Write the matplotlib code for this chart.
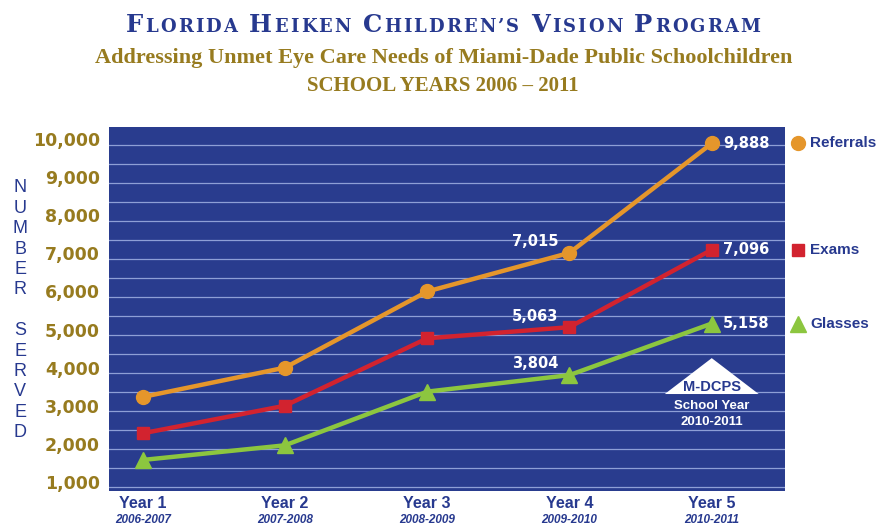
import matplotlib.pyplot as plt
import matplotlib.transforms as mtransforms
from matplotlib.patches import Polygon
from matplotlib.ticker import FuncFormatter
import numpy as np

years = ['Year 1', 'Year 2', 'Year 3', 'Year 4', 'Year 5']
school_years = ['2006-2007', '2007-2008', '2008-2009', '2009-2010', '2010-2011']
referrals = [3230, 4000, 6000, 7015, 9888]
exams = [2275, 3000, 4770, 5063, 7096]
glasses = [1575, 1960, 3370, 3804, 5158]
series_names = ['Referrals', 'Exams', 'Glasses']
yticks = list(range(1000, 10001, 1000))

NAVY = '#27398f'
GOLD = '#977b1f'
BG = '#293c8e'
colors = ['#e5962b', '#d2232f', '#8cc63f']
markers = ['o', 's', '^']
msizes = [10, 8, 11]

W, H = 878, 526
fig = plt.figure(figsize=(W / 100, H / 100), dpi=100)
ax = fig.add_axes([109 / W, 1 - 491 / H, 676 / W, 364 / H])
ax.set_facecolor(BG)
for s in ax.spines.values():
    s.set_visible(False)

x = np.arange(len(years))
ax.set_xlim(-0.237, 4.515)
ax.set_ylim(760, 10320)

# light stripes across the plot
for g in np.arange(860, 10000, 500):
    ax.axhline(g, color='#8e9fd6', lw=0.9, zorder=1)

data = [referrals, exams, glasses]
for vals, c, m, ms in zip(data, colors, markers, msizes):
    ax.plot(x, vals, color=c, lw=3.2, marker=m, ms=ms, zorder=3,
            solid_capstyle='round')

# value labels on year 4 (above left) and year 5 (right)
for vals in data:
    ax.annotate(f'{vals[3]:,}', (x[3], vals[3]), xytext=(-25, 8),
                textcoords='offset points', ha='center', va='center',
                color='white', fontsize=10.5, fontweight='bold',
                family='DejaVu Sans', zorder=4)
    ax.annotate(f'{vals[4]:,}', (x[4], vals[4]), xytext=(8, 0),
                textcoords='offset points', ha='left', va='center',
                color='white', fontsize=10.5, fontweight='bold',
                family='DejaVu Sans', zorder=4)

# legend at the right, level with the last points
trans = mtransforms.blended_transform_factory(ax.transAxes, ax.transData)
for name, vals, c, m, ms in zip(series_names, data, colors, markers, msizes):
    ax.plot([1.019], [vals[4]], marker=m, ms=ms, color=c, transform=trans,
            clip_on=False, ls='none')
    ax.text(1.037, vals[4], name, transform=trans, ha='left', va='center',
            color=NAVY, fontsize=11, fontweight='bold',
            family='Liberation Sans')

# M-DCPS school year badge
tri = Polygon([[x[4] - 0.33, 3307], [x[4] + 0.33, 3307], [x[4], 4250]],
              closed=True, facecolor='white', edgecolor='none', zorder=2)
ax.add_patch(tri)
ax.text(x[4], 3480, 'M-DCPS', ha='center', va='center', color=NAVY,
        fontsize=10.5, fontweight='bold', family='Liberation Sans', zorder=4)
ax.text(x[4], 2997, 'School Year', ha='center', va='center', color='white',
        fontsize=9.5, fontweight='bold', family='Liberation Sans', zorder=4)
ax.text(x[4], 2580, '2010-2011', ha='center', va='center', color='white',
        fontsize=9.5, fontweight='bold', family='Liberation Sans', zorder=4)

# axes ticks
ax.set_yticks(yticks)
ax.yaxis.set_major_formatter(FuncFormatter(lambda v, p: f'{int(v):,}'))
ax.tick_params(axis='y', length=0, pad=6.5, labelcolor=GOLD, labelsize=12.5)
for t in ax.get_yticklabels():
    t.set_fontweight('bold')
    t.set_family('DejaVu Sans')
ax.set_xticks([])
tx = mtransforms.blended_transform_factory(ax.transData, ax.transAxes)
for xi, yr, sy in zip(x, years, school_years):
    ax.text(xi, -12 / 364, yr, transform=tx, ha='center', va='center',
            color=NAVY, fontsize=11.5, fontweight='bold',
            family='Liberation Sans')
    ax.text(xi, -29 / 364, sy, transform=tx, ha='center', va='center',
            color=NAVY, fontsize=8.5, fontweight='bold', style='italic',
            family='Liberation Sans')

# vertical stacked axis label
for i, ch in enumerate('NUMBER SERVED'):
    if ch != ' ':
        fig.text(20 / W, 1 - (188 + i * 20.4) / H, ch, ha='center',
                 va='center', color=NAVY, fontsize=13,
                 family='Liberation Sans')

# title in spaced small caps
renderer = fig.canvas.get_renderer()


def small_caps(text, left, right, base_y, big, small, word_gap, color):
    words = text.split(' ')
    rows = []
    for w in words:
        chars = []
        for j, ch in enumerate(w):
            t = fig.text(0, base_y, ch, fontsize=big if j == 0 else small,
                         color=color, family='DejaVu Serif',
                         fontweight='bold', ha='left', va='baseline')
            chars.append((t, t.get_window_extent(renderer).width))
        rows.append(chars)
    n_chars = sum(len(r) for r in rows)
    ink = sum(w for r in rows for _, w in r)
    track = (right - left - ink - word_gap * (len(rows) - 1)) / (n_chars - len(rows))
    pos = left
    for r in rows:
        for j, (t, w) in enumerate(r):
            t.set_x(pos / W)
            pos += w + (track if j < len(r) - 1 else 0)
        pos += word_gap


small_caps("FLORIDA HEIKEN CHILDREN\u2019S VISION PROGRAM", 126, 760,
           1 - 32 / H, 17.5, 13, 12, NAVY)
fig.text(443.5 / W, 1 - 63.5 / H,
         'Addressing Unmet Eye Care Needs of Miami-Dade Public Schoolchildren',
         ha='center', va='baseline', color=GOLD, fontsize=16,
         fontweight='bold', family='Liberation Serif')
fig.text(443 / W, 1 - 90.7 / H, 'SCHOOL YEARS 2006 \u2013 2011',
         ha='center', va='baseline', color=GOLD, fontsize=15,
         fontweight='bold', family='Liberation Serif')

fig.savefig('out.png', dpi=100)
